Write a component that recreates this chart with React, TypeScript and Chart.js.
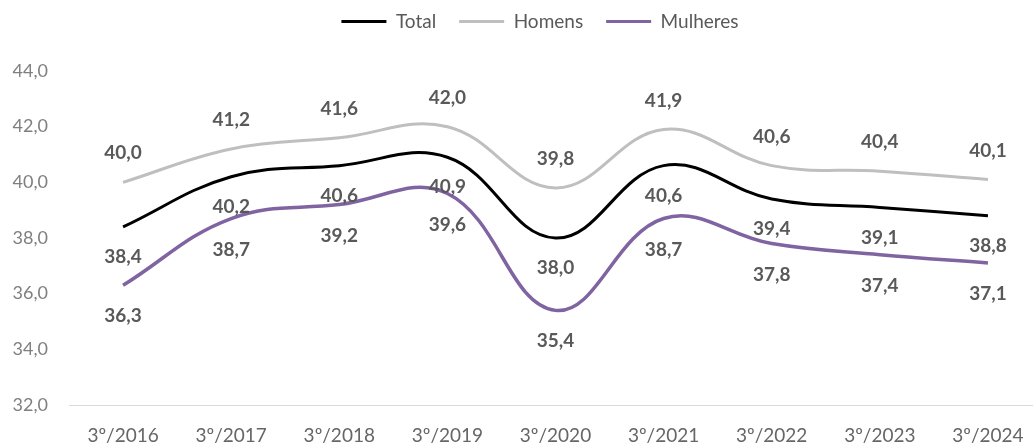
import { useEffect, useRef } from "react";
import { Chart, registerables } from "chart.js";

Chart.register(...registerables);

const categories = ["3º/2016", "3º/2017", "3º/2018", "3º/2019", "3º/2020", "3º/2021", "3º/2022", "3º/2023", "3º/2024"];
const totalValues = [38.4, 40.2, 40.6, 40.9, 38.0, 40.6, 39.4, 39.1, 38.8];
const homensValues = [40.0, 41.2, 41.6, 42.0, 39.8, 41.9, 40.6, 40.4, 40.1];
const mulheresValues = [36.3, 38.7, 39.2, 39.6, 35.4, 38.7, 37.8, 37.4, 37.1];
const yTickValues = [32, 34, 36, 38, 40, 42, 44];

const FONT = "Lato, 'Open Sans', sans-serif";
const fmt = (v: number) => v.toFixed(1).replace(".", ",");

// vertical pixel offset of each series' value labels (style only)
const labelOffsets = [30, -29, 31];

const dataLabelPlugin = {
  id: "valueLabels",
  afterDatasetsDraw(chart: any) {
    const ctx = chart.ctx;
    ctx.save();
    ctx.font = `bold 19px ${FONT}`;
    ctx.fillStyle = "#595959";
    ctx.textAlign = "center";
    ctx.textBaseline = "middle";
    chart.data.datasets.forEach((ds: any, i: number) => {
      const meta = chart.getDatasetMeta(i);
      meta.data.forEach((pt: any, j: number) => {
        ctx.fillText(fmt(ds.data[j]), pt.x, pt.y + labelOffsets[i]);
      });
    });
    ctx.restore();
  },
};

const W = 1080;
const H = 443;

export default function App() {
  const ref = useRef<HTMLCanvasElement | null>(null);

  useEffect(() => {
    if (!ref.current) return;
    const chart = new Chart(ref.current, {
      type: "line",
      data: {
        labels: categories,
        datasets: [
          {
            label: "Total",
            data: totalValues,
            borderColor: "#000000",
            backgroundColor: "#000000",
            borderWidth: 3,
            pointRadius: 0,
            tension: 0.4,
            xAxisID: "x",
            yAxisID: "y",
          },
          {
            label: "Homens",
            data: homensValues,
            borderColor: "#BFBFBF",
            backgroundColor: "#BFBFBF",
            borderWidth: 3,
            pointRadius: 0,
            tension: 0.4,
            xAxisID: "x",
            yAxisID: "y",
          },
          {
            label: "Mulheres",
            data: mulheresValues,
            borderColor: "#8064A2",
            backgroundColor: "#8064A2",
            borderWidth: 3.5,
            pointRadius: 0,
            tension: 0.4,
            xAxisID: "x",
            yAxisID: "y",
          },
        ],
      },
      options: {
        animation: false,
        responsive: false,
        maintainAspectRatio: false,
        layout: { padding: { top: -11, left: 0, right: 0, bottom: 0 } },
        plugins: {
          tooltip: { enabled: false },
          legend: {
            display: true,
            position: "top",
            align: "center",
            weight: 3000,
            labels: {
              boxWidth: 45,
              boxHeight: 3,
              padding: 23,
              color: "#595959",
              font: { family: FONT, size: 19 },
              generateLabels(chart: any) {
                const items = (Chart.defaults.plugins.legend.labels as any).generateLabels(chart);
                return items.map((it: any) => ({ ...it, lineWidth: 0 }));
              },
            },
          },
        },
        scales: {
          x: {
            type: "category",
            position: "bottom",
            offset: true,
            grid: { display: false, drawTicks: false },
            border: { display: true, color: "#D9D9D9", width: 1 },
            ticks: {
              color: "#666666",
              font: { family: FONT, size: 19 },
              padding: 19,
              maxRotation: 0,
              autoSkip: false,
            },
            afterFit(scale: any) {
              scale.height = 38;
            },
          },
          spacer: {
            type: "category",
            position: "top",
            display: true,
            grid: { display: false, drawTicks: false },
            border: { display: false },
            ticks: { display: false },
            afterFit(scale: any) {
              scale.height = 30;
            },
          },
          y: {
            type: "linear",
            position: "left",
            min: yTickValues[0],
            max: yTickValues[yTickValues.length - 1],
            grid: { display: false, drawTicks: false },
            border: { display: false },
            ticks: {
              stepSize: 2,
              color: "#7F7F7F",
              font: { family: FONT, size: 18 },
              padding: 21,
              callback: (v: any) => fmt(Number(v)),
            },
            afterFit(scale: any) {
              scale.width = 69;
            },
          },
          rightSpacer: {
            type: "linear",
            position: "right",
            display: true,
            grid: { display: false, drawTicks: false },
            border: { display: false },
            ticks: { display: false },
            afterFit(scale: any) {
              scale.width = 38;
            },
          },
        },
      } as any,
      plugins: [dataLabelPlugin],
    });
    return () => chart.destroy();
  }, []);

  return (
    <div style={{ position: "fixed", left: 0, top: 0, width: W, height: H, background: "#ffffff" }}>
      <canvas ref={ref} width={W} height={H} style={{ width: W, height: H, display: "block" }} />
    </div>
  );
}
